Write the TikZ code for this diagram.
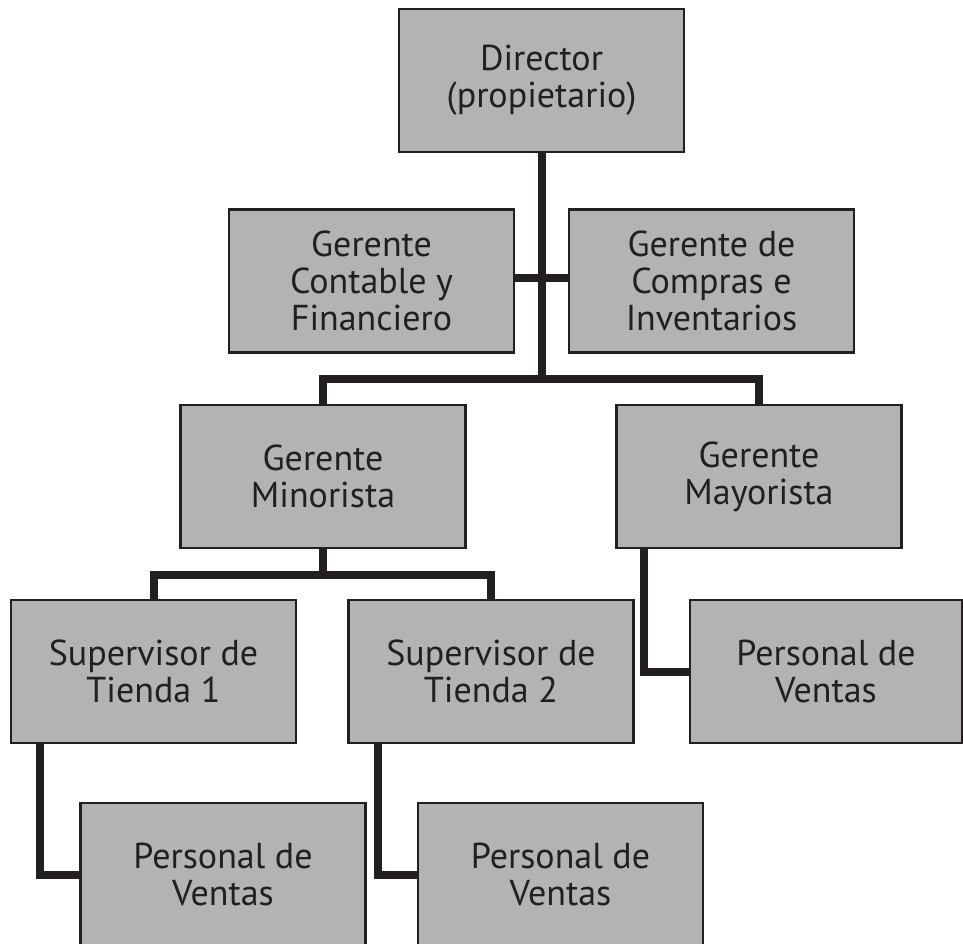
\documentclass[tikz,border=0pt]{standalone}
\usepackage{fontspec}
\setmainfont{PT Sans}
\definecolor{boxgray}{HTML}{B1B3B4}
\definecolor{linegray}{HTML}{231F20}
\begin{document}
\begin{tikzpicture}[x=1pt,y=-1pt,line width=8pt,color=linegray,line join=miter,
	caja/.style={draw=linegray,fill=boxgray,line width=2.5pt,minimum width=285pt,minimum height=143pt,inner sep=0pt,align=center,text=linegray,font=\fontsize{36}{37}\selectfont}]
		\useasboundingbox (0,0) rectangle (963,943);
		\node[caja] (dir) at (541.5,80.5) {Director\\(propietario)};
		\node[caja] (cont) at (371.5,281) {Gerente\\Contable y\\Financiero};
		\node[caja] (comp) at (711.5,281) {Gerente de\\Compras e\\Inventarios};
		\node[caja] (mino) at (323,476.5) {Gerente\\Minorista};
		\node[caja] (mayo) at (759,476.5) {Gerente\\Mayorista};
		\node[caja] (sup1) at (153.5,671.5) {Supervisor de\\Tienda 1};
		\node[caja] (sup2) at (491,671.5) {Supervisor de\\Tienda 2};
		\node[caja,minimum width=272pt] (persm) at (826,671.5) {Personal de\\Ventas};
		\node[caja] (pers1) at (223,874.5) {Personal de\\Ventas};
		\node[caja] (pers2) at (560.5,874.5) {Personal de\\Ventas};
		\coordinate (cruce) at (541.5,379);
		\draw (dir.south) -- (cruce);
		\draw ([yshift=3pt]cont.east) -- ([yshift=3pt]comp.west);
		\draw (mino.north) |- (cruce) -| (mayo.north);
		\draw (mino.south) -- ++(0,26);
		\draw (sup1.north) |- ([yshift=-26pt]mino.south) -| (sup2.north);
		\draw ([xshift=29pt]mayo.south west) |- (persm.west);
		\draw ([xshift=30pt]sup1.south west) |- (pers1.west);
		\draw ([xshift=31pt]sup2.south west) |- (pers2.west);
		\end{tikzpicture}
\end{document}
